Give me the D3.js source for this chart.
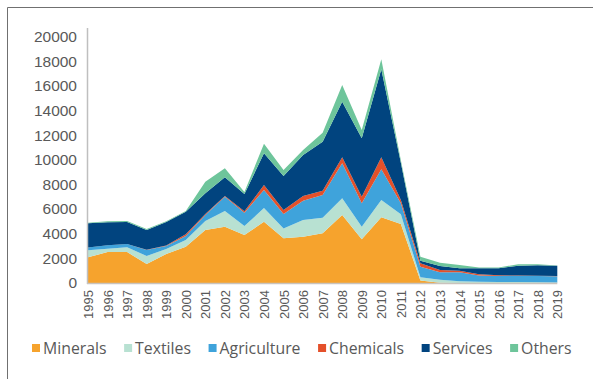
<!DOCTYPE html>
<html>
<head>
<meta charset="utf-8">
<script src="https://cdn.jsdelivr.net/npm/d3@7"></script>
<style>
  html, body { margin: 0; padding: 0; background: #fff; }
  svg { display: block; font-family: "Open Sans", "Noto Sans", sans-serif; }
</style>
</head>
<body>
<svg id="chart" width="593" height="379"></svg>
<script>
// Exports by sector, 1995–2019
const years = d3.range(1995, 2020).map(String);
const minerals    = [2080,2510,2510,1540,2350,2950,4300,4570,3890,4970,3620,3760,4030,5510,3540,5330,4790,200,30,0,0,0,0,0,0];
const textiles    = [570,270,380,650,410,540,730,1270,730,1110,810,1350,1270,1360,1030,1400,780,260,230,150,100,80,80,60,50];
const agriculture = [230,280,270,490,240,320,480,1160,1080,1470,1170,1570,1840,2840,1890,2490,890,860,620,730,500,490,490,500,490];
const chemicals   = [0,0,10,10,50,140,90,60,110,400,320,380,350,480,540,970,270,280,170,120,100,50,30,20,20];
const services    = [1960,1860,1780,1610,1900,1830,1670,1510,1410,2570,2760,3320,3970,4510,4730,7140,3020,200,330,200,490,570,800,850,840];
const others      = [40,80,70,80,50,60,950,730,160,780,480,410,730,1360,680,810,200,330,270,260,70,70,120,90,20];
const yTicks = [0,2000,4000,6000,8000,10000,12000,14000,16000,18000,20000];

const seriesNames = ["Minerals","Textiles","Agriculture","Chemicals","Services","Others"];
const seriesValues = [minerals, textiles, agriculture, chemicals, services, others];
const colors = ["#F6A32D","#B8E1D2","#3FA3DB","#E4502A","#01447F","#6EC59B"];

const rows = years.map((yr, i) => {
  const r = { year: yr };
  seriesNames.forEach((n, k) => r[n] = seriesValues[k][i]);
  return r;
});

const svg = d3.select("#chart");
const textColor = "#595959";

// outer frame (left and top edges)
svg.append("path")
  .attr("d", "M7.5,379 V7.5 H593")
  .attr("fill", "none").attr("stroke", "#707070").attr("stroke-width", 1);

const plotLeft = 88, plotRight = 557.3, plotTop = 36.4, plotBottom = 283;

const x = d3.scalePoint().domain(years).range([plotLeft, plotRight]);
const y = d3.scaleLinear().domain([0, 20000]).range([plotBottom, plotTop]);

const layers = d3.stack().keys(seriesNames)(rows);

const area = d3.area()
  .x(d => x(d.data.year))
  .y0(d => y(d[0]))
  .y1(d => y(d[1]));

svg.append("g").selectAll("path")
  .data(layers)
  .join("path")
  .attr("d", area)
  .attr("fill", (d, i) => colors[i]);

// y axis
const yAxis = svg.append("g")
  .attr("transform", `translate(${plotLeft},0)`)
  .call(d3.axisLeft(y).tickValues(yTicks).tickSize(0).tickPadding(11).tickFormat(d3.format("d")));
yAxis.select(".domain").remove();
yAxis.selectAll("text")
  .attr("fill", textColor)
  .style("font-size", "15.5px");
svg.append("line")
  .attr("x1", plotLeft - 0.5).attr("x2", plotLeft - 0.5)
  .attr("y1", 28).attr("y2", plotBottom + 1)
  .attr("stroke", "#bfbfbf").attr("stroke-width", 1.5);

// x axis
const xAxis = svg.append("g")
  .attr("transform", `translate(0,${plotBottom})`)
  .call(d3.axisBottom(x).tickSize(0).tickPadding(0));
xAxis.select(".domain").remove();
xAxis.selectAll("text")
  .attr("fill", textColor)
  .style("font-size", "13px")
  .attr("text-anchor", "end")
  .attr("dy", "0.35em")
  .attr("transform", "translate(0,7) rotate(-90)")
  .attr("x", 0).attr("y", 0);
svg.append("line")
  .attr("x1", plotLeft - 1).attr("x2", plotRight)
  .attr("y1", plotBottom + 0.5).attr("y2", plotBottom + 0.5)
  .attr("stroke", "#c9c3bd").attr("stroke-width", 1.5);

// legend
const legend = svg.append("g").attr("transform", "translate(32,348)");
let cursor = 0;
seriesNames.forEach((name, i) => {
  const g = legend.append("g").attr("transform", `translate(${cursor},0)`);
  g.append("rect").attr("x", 0).attr("y", -4).attr("width", 8).attr("height", 8).attr("fill", colors[i]);
  const t = g.append("text")
    .attr("x", 11).attr("y", 0).attr("dy", "0.35em")
    .attr("fill", textColor).style("font-size", "15.8px")
    .text(name);
  cursor += 11 + t.node().getComputedTextLength() + 17.6;
});
</script>
</body>
</html>
